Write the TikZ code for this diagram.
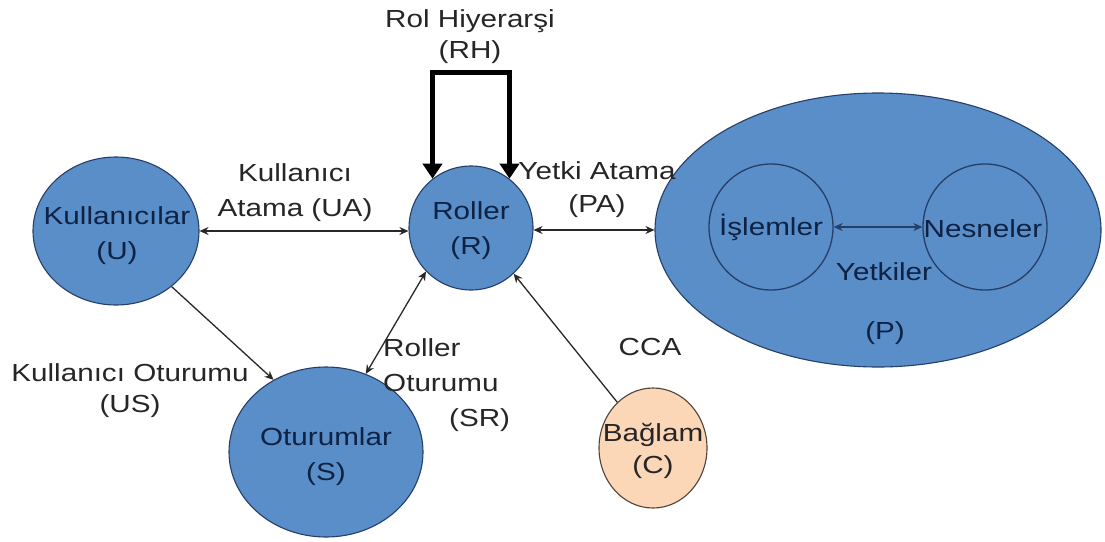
\documentclass[tikz,border=0pt]{standalone}
\usepackage{fontspec}
\setmainfont{Liberation Sans}[FakeStretch=1.2]
\usetikzlibrary{arrows.meta,shapes.geometric}
\definecolor{setblue}{RGB}{89,142,201}
\definecolor{setedge}{RGB}{38,62,104}
\definecolor{navytext}{RGB}{14,34,68}
\definecolor{ctxfill}{RGB}{251,215,184}
\definecolor{ctxedge}{RGB}{80,66,56}
\definecolor{labeltext}{RGB}{38,38,38}
\definecolor{linegray}{RGB}{40,40,40}

\begin{document}
\begin{tikzpicture}[x=1pt,y=-1pt,
  set/.style={ellipse,draw=setedge,line width=1.1pt,fill=setblue,inner sep=0pt},
  subset/.style={ellipse,draw=setedge,line width=1.3pt,inner sep=0pt},
  ctx/.style={ellipse,draw=ctxedge,line width=1.1pt,fill=ctxfill,inner sep=0pt},
  txt/.style={align=center,inner sep=0pt,font=\fontsize{24.7}{31}\selectfont},
  intext/.style={txt,text=navytext,font=\fontsize{24.7}{35}\selectfont},
  ctxtext/.style={txt,text=black!85,font=\fontsize{24.7}{32}\selectfont},
  lbl/.style={txt,text=labeltext},
  conn/.style={draw=linegray,line width=1.3pt},
  >={Stealth[length=9pt,width=8pt]},
  rhline/.style={draw=black,line width=5pt,
    arrows={Triangle[length=15pt,width=19pt]-Triangle[length=15pt,width=19pt]}}
]
\useasboundingbox (0,0) rectangle (1105,541);

% sets
\node[set, minimum width=166pt, minimum height=148pt] (U) at (116,231) {};
\node[set, minimum width=124pt, minimum height=124pt] (R) at (471,228) {};
\node[set, minimum width=194pt, minimum height=170pt] (S) at (326,452) {};
\node[ctx, minimum width=108pt, minimum height=120pt] (C) at (653,448) {};
\node[set, minimum width=446pt, minimum height=274pt] (P) at (878,230) {};
\node[subset, minimum width=124pt, minimum height=126pt] (I) at (771,227) {};
\node[subset, minimum width=124pt, minimum height=126pt] (N) at (985,227) {};

% texts inside the sets
\node[intext] (Ut) at (117,236) {Kullanıcılar\\(U)};
\node[intext] (Rt) at (471,231) {Roller\\(R)};
\node[intext] (St) at (326,457) {Oturumlar\\(S)};
\node[ctxtext] (Ct) at (653,451) {Bağlam\\(C)};
\node[intext] (It) at (I) {İşlemler};
\node[intext] (Nt) at (983,229) {Nesneler};
\node[intext] (Yt) at (884,272) {Yetkiler};
\node[intext] (Pt) at (885,333) {(P)};

% role hierarchy loop
\draw[rhline] (R.128) -- ++(0,-106) -| (R.52);
\node[lbl] (RHt) at (470,37) {Rol Hiyerarşi\\(RH)};

% assignments
\draw[conn,<->] (U.east) -- (U.east -| R.west);
\node[lbl] (UAt) at (295,193) {Kullanıcı\\[4pt]Atama (UA)};

\draw[conn,<->] (P.west -| R.east) -- (P.west);
\node[lbl] (PAt) at (597,190) {Yetki Atama\\[2pt](PA)};

\draw[conn,->] (U.-45) -- (S.126);
\node[lbl] (USt) at (130,391) {Kullanıcı Oturumu\\(US)};

\draw[conn,<->] (S.63) -- (R.224);
\node[lbl, align=left, anchor=north west] (SRt) at (383,338) {Roller\\[4pt]Oturumu\\[4pt]\hspace{66pt}(SR)};

\draw[conn,->] (C.128) -- (R.-47);
\node[lbl] (CCAt) at (650,347) {CCA};

\draw[draw=setedge,line width=1.3pt,<->] (I.east) -- (N.west);

\end{tikzpicture}
\end{document}
